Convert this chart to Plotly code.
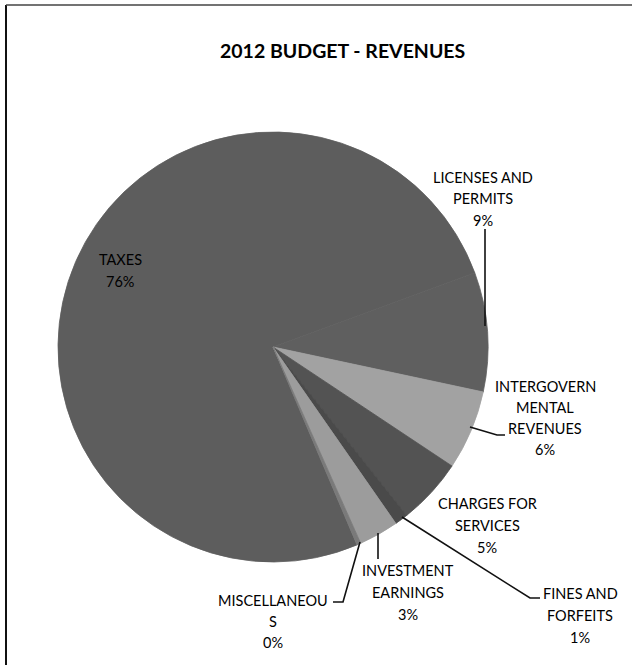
import plotly.graph_objects as go

# ---- data ----
categories = ["TAXES", "LICENSES AND PERMITS", "INTERGOVERNMENTAL REVENUES",
              "CHARGES FOR SERVICES", "FINES AND FORFEITS", "INVESTMENT EARNINGS",
              "MISCELLANEOUS"]
values = [76, 9, 6, 5, 1, 3, 0.3]
label_lines = [["TAXES"], ["LICENSES AND", "PERMITS"], ["INTERGOVERN", "MENTAL", "REVENUES"],
               ["CHARGES FOR", "SERVICES"], ["FINES AND", "FORFEITS"],
               ["INVESTMENT", "EARNINGS"], ["MISCELLANEOU", "S"]]
colors = ["#5d5d5d", "#5f5f5f", "#a2a2a2", "#535353", "#4a4a4a", "#9c9c9c", "#7a7a7a"]

W, H = 632, 665
FONT = "Lato"

def px(x):
    return x / W

def py(y):
    return 1 - y / H

total = sum(values)
pcts = [round(v / total * 100) for v in values]

fig = go.Figure(go.Pie(
    labels=categories, values=values, sort=False, direction="clockwise",
    rotation=157, textinfo="none", hoverinfo="label+percent",
    marker=dict(colors=colors, line=dict(width=0.8, color=colors)),
    domain=dict(x=[px(58), px(488)], y=[py(562), py(132)]),
    showlegend=False,
))

# label placement (pixel positions of text block: center x, first line y, line gap)
label_pos = [(120, 259, 23), (483, 177, 21.5), (545, 386, 21.3), (487, 503, 22),
             (580, 593, 22), (408, 570, 22), (273, 600, 21)]

annotations = []
for i, (cx, y0, gap) in enumerate(label_pos):
    lines = label_lines[i] + [f"{pcts[i]}%"]
    for j, t in enumerate(lines):
        annotations.append(dict(
            x=px(cx), y=py(y0 + j * gap), xref="paper", yref="paper",
            text=t, showarrow=False, xanchor="center", yanchor="middle",
            font=dict(family=FONT, size=14.5, color="#000000")))

annotations.append(dict(
    x=px(342), y=py(50), xref="paper", yref="paper", text="<b>2012 BUDGET - REVENUES</b>",
    showarrow=False, xanchor="center", yanchor="middle",
    font=dict(family=FONT, size=19.5, color="#000000")))

# leader lines (pixel polylines)
leaders = [
    [(485, 229), (485, 326)],
    [(470, 427), (497, 435), (505, 435)],
    [(402, 517), (530, 598), (540, 598)],
    [(378, 533), (378, 559)],
    [(360, 542), (343, 602), (333, 602)],
]
shapes = []
for pts in leaders:
    path = "M " + " L ".join(f"{px(x)},{py(y)}" for x, y in pts)
    shapes.append(dict(type="path", xref="paper", yref="paper", path=path,
                       line=dict(color="#111111", width=1.6)))

# chart frame (left and top edges)
shapes.append(dict(type="line", xref="paper", yref="paper", x0=px(6), x1=px(6),
                   y0=py(5), y1=py(665), line=dict(color="#111111", width=2)))
shapes.append(dict(type="line", xref="paper", yref="paper", x0=px(6), x1=px(632),
                   y0=py(5), y1=py(5), line=dict(color="#444444", width=1.5)))

fig.update_layout(
    width=W, height=H, margin=dict(l=0, r=0, t=0, b=0),
    paper_bgcolor="white", plot_bgcolor="white",
    annotations=annotations, shapes=shapes,
)

fig.write_html("out.html", config={"displayModeBar": False},
               post_script="document.body.style.margin='0';document.body.style.overflow='hidden';")
